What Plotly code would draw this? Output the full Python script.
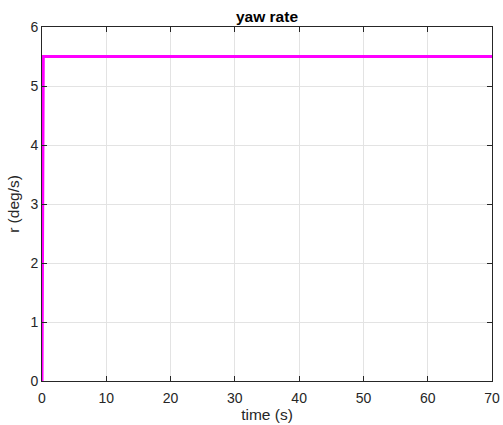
import plotly.graph_objects as go

time_s = [0, 0.1, 0.2, 70]
yaw_rate = [0, 5.0, 5.5, 5.5]
x_ticks = [0, 10, 20, 30, 40, 50, 60, 70]
y_ticks = [0, 1, 2, 3, 4, 5, 6]

FONT = "Liberation Sans, Arial"
fig = go.Figure()
fig.add_trace(go.Scatter(x=time_s, y=yaw_rate, mode="lines",
                         line=dict(color="#ff00ff", width=3), showlegend=False))

axis_common = dict(
    showline=True, linecolor="#262626", linewidth=1, mirror="ticks",
    ticks="inside", ticklen=5, tickcolor="#262626", automargin=False,
    showgrid=True, gridcolor="#e3e3e3", gridwidth=1, zeroline=False,
    tickfont=dict(family=FONT, size=14, color="#262626"),
)
fig.update_xaxes(range=[0, 70], tickvals=x_ticks, ticklabelstandoff=4,
                 title=dict(text="time (s)", font=dict(family=FONT, size=15.5, color="#262626"), standoff=4),
                 **axis_common)
fig.update_yaxes(range=[0, 6], tickvals=y_ticks,
                 title=dict(text="r (deg/s)", font=dict(family=FONT, size=15.5, color="#262626"), standoff=6),
                 **axis_common)
fig.update_layout(
    width=503, height=425,
    margin=dict(l=42, r=11, t=27, b=44),
    paper_bgcolor="white", plot_bgcolor="white",
    title=dict(text="<b>yaw rate</b>", xref="paper", x=0.5, xanchor="center",
               yref="container", y=0.961, yanchor="middle",
               font=dict(family=FONT, size=15.5, color="black")),
)
fig.write_html("out.html")
